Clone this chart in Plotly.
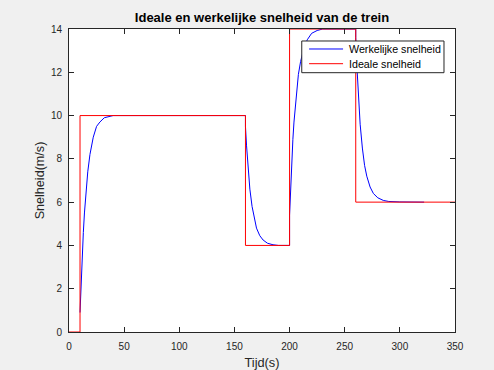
import plotly.graph_objects as go

# Werkelijke snelheid
t_actual = [10, 11, 12, 13, 14, 15, 17, 19, 22, 25, 28, 32, 36, 40, 160,
            160, 161, 162, 163, 164, 166, 168, 170, 173, 176, 180, 185, 190, 200,
            200, 201, 202, 203, 204, 206, 208, 210, 213, 216, 220, 225, 230, 260,
            260, 261, 262, 263, 264, 266, 268, 270, 273, 276, 280, 285, 290, 300, 322]
v_actual = [0.9, 2.3, 3.5, 4.6, 5.5, 6.2, 7.4, 8.2, 9.0, 9.5, 9.7, 9.9, 9.95, 10.0, 10.0,
            9.5, 8.6, 7.9, 7.2, 6.6, 5.8, 5.2, 4.8, 4.45, 4.25, 4.1, 4.03, 4.0, 4.0,
            5.4, 6.7, 7.9, 8.9, 9.7, 10.9, 11.9, 12.5, 13.1, 13.5, 13.8, 13.93, 14.0, 14.0,
            13.6, 12.3, 11.2, 10.3, 9.6, 8.5, 7.7, 7.2, 6.7, 6.4, 6.2, 6.08, 6.03, 6.01, 6.0]

# Ideale snelheid (step profile)
t_ideal = [0, 10, 10, 160, 160, 200, 200, 260, 260, 350]
v_ideal = [0, 0, 10, 10, 4, 4, 14, 14, 6, 6]

x_ticks = [0, 50, 100, 150, 200, 250, 300, 350]
y_ticks = [0, 2, 4, 6, 8, 10, 12, 14]

series_names = ["Werkelijke snelheid", "Ideale snelheid"]
series_colors = ["#0000FF", "#FF0000"]

FONT = "Liberation Sans, Arial, Helvetica, sans-serif"
AX = "#262626"

fig = go.Figure()
fig.add_trace(go.Scatter(x=t_actual, y=v_actual, mode="lines", name=series_names[0],
                         line=dict(color=series_colors[0], width=1), showlegend=False))
fig.add_trace(go.Scatter(x=t_ideal, y=v_ideal, mode="lines", name=series_names[1],
                         line=dict(color=series_colors[1], width=1), showlegend=False))

axis_common = dict(showgrid=False, zeroline=False, ticks="inside", ticklen=5, tickwidth=1,
                   tickcolor=AX, showline=True, linecolor=AX, linewidth=1, mirror="ticks",
                   automargin=False,
                   tickfont=dict(family=FONT, size=10, color=AX))

# Legend box (MATLAB-style), drawn in paper coordinates
lx0, lx1, ly0, ly1 = 0.603, 0.9715, 0.8558, 0.9604
row_y = [0.934, 0.8855]
shapes = [dict(type="rect", xref="paper", yref="paper", x0=lx0, x1=lx1, y0=ly0, y1=ly1,
               fillcolor="white", line=dict(color=AX, width=1), layer="above")]
annotations = []
for name, color, ry in zip(series_names, series_colors, row_y):
    shapes.append(dict(type="line", xref="paper", yref="paper", x0=0.622, x1=0.710, y0=ry, y1=ry,
                       line=dict(color=color, width=1), layer="above"))
    annotations.append(dict(text=name, xref="paper", yref="paper", x=0.719, y=ry,
                            xanchor="left", yanchor="middle", showarrow=False,
                            font=dict(family=FONT, size=10.7, color="black")))

fig.update_layout(
    width=494, height=370,
    margin=dict(l=69, r=39, t=29, b=38, autoexpand=False),
    paper_bgcolor="#F0F0F0", plot_bgcolor="white",
    title=dict(text="<b>Ideale en werkelijke snelheid van de trein</b>",
               font=dict(family=FONT, size=13, color="black"),
               x=0.5, xref="paper", xanchor="center", y=1 - 17.5 / 370, yanchor="middle"),
    xaxis=dict(range=[0, 350], tickvals=x_ticks,
               title=dict(text="Tijd(s)", font=dict(family=FONT, size=12.8, color=AX), standoff=10),
               ticklabelstandoff=5, **axis_common),
    yaxis=dict(range=[0, 14], tickvals=y_ticks,
               title=dict(text="Snelheid(m/s)", font=dict(family=FONT, size=12.6, color=AX), standoff=3),
               ticklabelstandoff=4, **axis_common),
    shapes=shapes,
    annotations=annotations,
    showlegend=False,
)

fig.write_html("out.html")
